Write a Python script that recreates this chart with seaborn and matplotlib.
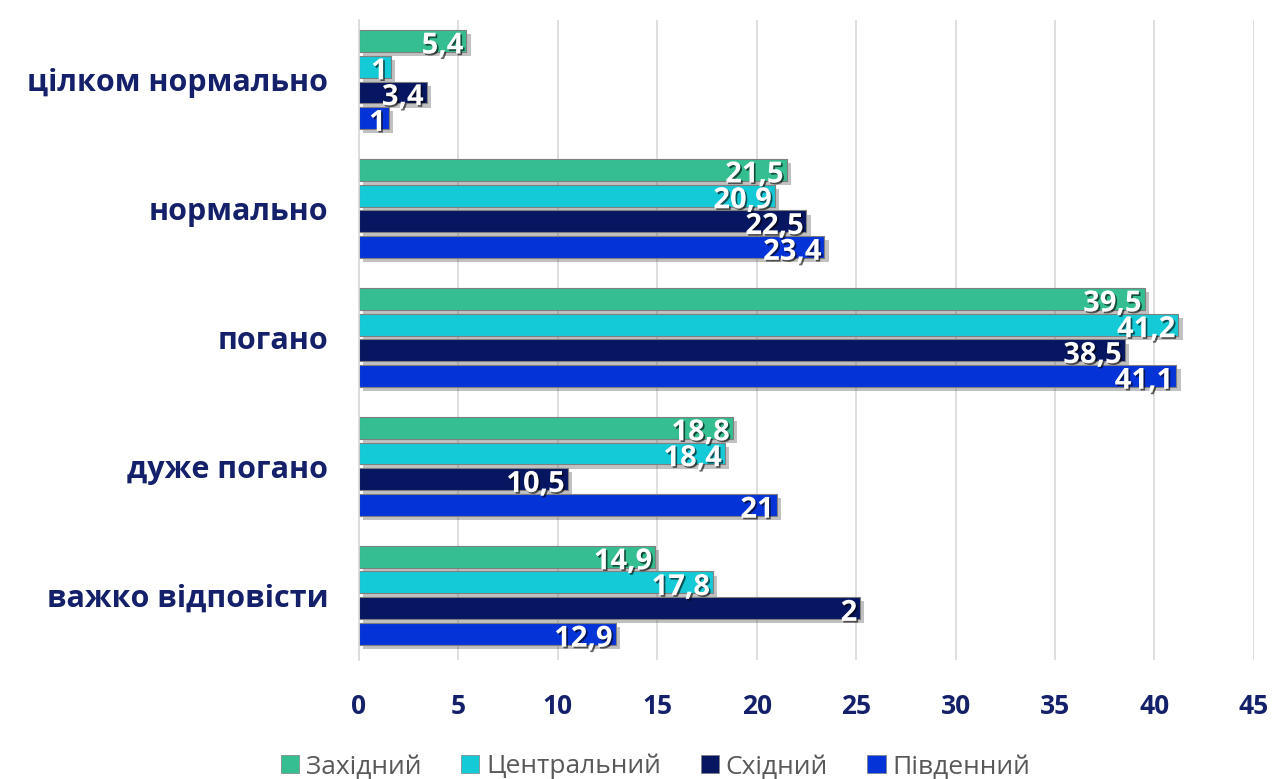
import pandas as pd
import seaborn as sns
import matplotlib.pyplot as plt
import matplotlib.patheffects as pe

# categories (top to bottom) and regions
categories = ["цілком нормально", "нормально", "погано", "дуже погано", "важко відповісти"]
regions = ["Західний", "Центральний", "Східний", "Південний"]

# values per region
zakhidnyi = [5.4, 21.5, 39.5, 18.8, 14.9]
tsentralnyi = [1.6, 20.9, 41.2, 18.4, 17.8]
skhidnyi = [3.4, 22.5, 38.5, 10.5, 25.2]
pivdennyi = [1.5, 23.4, 41.1, 21.0, 12.9]

# labels as they are printed on the bars
zakhidnyi_lbl = ["5,4", "21,5", "39,5", "18,8", "14,9"]
tsentralnyi_lbl = ["1", "20,9", "41,2", "18,4", "17,8"]
skhidnyi_lbl = ["3,4", "22,5", "38,5", "10,5", "2"]
pivdennyi_lbl = ["1", "23,4", "41,1", "21", "12,9"]

colors = ["#34BE91", "#14CAD6", "#061660", "#0433D8"]
navy = "#14206A"

series = [zakhidnyi, tsentralnyi, skhidnyi, pivdennyi]
labels = [zakhidnyi_lbl, tsentralnyi_lbl, skhidnyi_lbl, pivdennyi_lbl]

rows = []
for reg, vals in zip(regions, series):
    for cat, v in zip(categories, vals):
        rows.append({"category": cat, "region": reg, "value": v})
data = pd.DataFrame(rows)

sns.set_style("white")
plt.rcParams["font.family"] = ["Open Sans", "DejaVu Sans"]

fig = plt.figure(figsize=(12.73, 7.79), dpi=100)
ax = fig.add_axes([0.282, 0.153, 0.703, 0.821])

sns.barplot(data=data, y="category", x="value", hue="region", orient="h",
            order=categories, hue_order=regions, palette=colors, saturation=1,
            width=0.8, gap=0.15, edgecolor="#7F7F7F", linewidth=0.8,
            ax=ax, errorbar=None, legend=False)

# bar shadows
for cont in ax.containers:
    for bar in cont:
        bar.set_path_effects([pe.SimplePatchShadow(offset=(3, -3), alpha=0.3, shadow_rgbFace="#333333"),
                              pe.Normal()])

# value labels inside bar ends
for cont, lbls in zip(ax.containers, labels):
    for bar, txt in zip(cont, lbls):
        y = bar.get_y() + bar.get_height() / 2
        x = bar.get_width()
        ax.text(x - 0.15, y + 0.04, txt, ha="right", va="center", color="white",
                fontsize=21, fontweight="bold", zorder=5,
                path_effects=[pe.withSimplePatchShadow(offset=(1.2, -1.2), alpha=0.6,
                                                       shadow_rgbFace="black")])

ax.set_xlim(0, 45)
ax.set_ylim(4.5, -0.46)
ax.set_xticks(range(0, 46, 5))
ax.grid(axis="x", color="#D9D9D9", linewidth=1.2)
ax.set_axisbelow(True)
for s in ["top", "right", "bottom"]:
    ax.spines[s].set_visible(False)
ax.spines["left"].set_color("#D9D9D9")
ax.spines["left"].set_linewidth(1.2)

ax.set_xlabel("")
ax.set_ylabel("")
ax.tick_params(axis="both", length=0)
ax.tick_params(axis="y", pad=22)
ax.tick_params(axis="x", pad=24)
for t in ax.get_yticklabels():
    t.set_fontsize(22)
    t.set_fontweight("bold")
    t.set_color(navy)
for t in ax.get_xticklabels():
    t.set_fontsize(19)
    t.set_fontweight("bold")
    t.set_color(navy)

handles = [plt.Rectangle((0, 0), 1, 1, facecolor=c, edgecolor="#7F7F7F", linewidth=0.5) for c in colors]
fig.legend(handles, regions, loc="center", bbox_to_anchor=(0.515, 0.016), ncol=4,
           frameon=False, handlelength=0.7, handleheight=0.7,
           handletextpad=0.25, columnspacing=1.5, labelcolor="#595959",
           prop={"family": ["Open Sans", "DejaVu Sans"], "size": 19})

fig.savefig("out.png", dpi=100)
